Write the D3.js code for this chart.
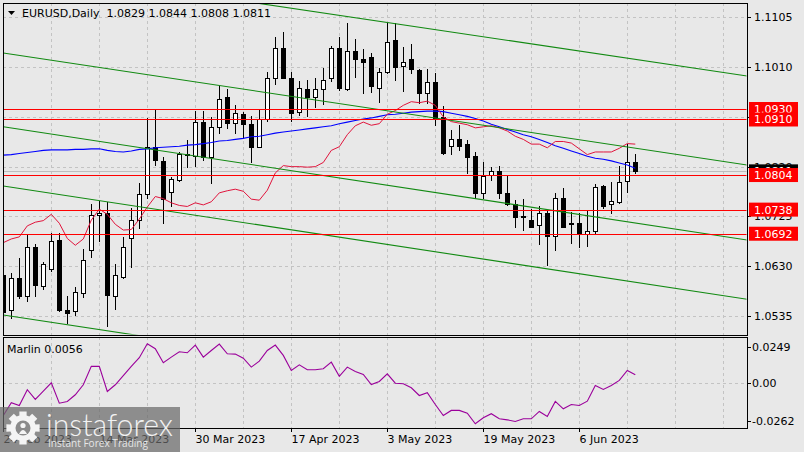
<!DOCTYPE html>
<html><head><meta charset="utf-8">
<script src="https://cdn.jsdelivr.net/npm/d3@7"></script>
<style>body{margin:0;background:#e8e8e8;} svg{display:block;font-family:"DejaVu Sans",sans-serif;}</style>
</head><body><svg id="c" width="804" height="452"></svg>
<script>
// ---------- data ----------
const symbolTitle = "EURUSD,Daily";
const dateLabels = ["24 Feb 2023","14 Mar 2023","30 Mar 2023","17 Apr 2023","3 May 2023","19 May 2023","6 Jun 2023"];
const dateLabelBars = [0,12,24,36,48,60,72];
const open = [1.0613,1.0546,1.0607,1.0574,1.0666,1.0593,1.0624,1.0680,1.0546,1.0544,
1.0578,1.0660,1.0727,1.0731,1.0574,1.0609,1.0683,1.0719,1.0767,1.0857,
1.0831,1.0771,1.0794,1.0845,1.0841,1.0905,1.0839,1.0896,1.0952,1.0903,
1.0920,1.0901,1.0858,1.0910,1.0990,1.1046,1.0990,1.0924,1.0969,1.0953,
1.0969,1.0990,1.1046,1.0969,1.1040,1.1026,1.1029,1.0971,1.1000,1.1061,
1.1013,1.1025,1.1004,1.0960,1.0982,1.0915,1.0860,1.0873,1.0863,1.0840,
1.0769,1.0805,1.0812,1.0769,1.0748,1.0725,1.0719,1.0709,1.0732,1.0688,
1.0761,1.0712,1.0712,1.0691,1.0698,1.0783,1.0748,1.0753,1.0792,1.0829];
const high = [1.0617,1.0618,1.0645,1.0690,1.0672,1.0638,1.0693,1.0693,1.0573,1.0590,
1.0662,1.0748,1.0755,1.0753,1.0634,1.0686,1.0742,1.0788,1.0912,1.0928,
1.0839,1.0801,1.0848,1.0871,1.0927,1.0926,1.0915,1.0973,1.0969,1.0937,
1.0925,1.0917,1.0929,1.1000,1.1067,1.1076,1.1001,1.0983,1.0985,1.0989,
1.1008,1.1050,1.1068,1.1095,1.1063,1.1044,1.1036,1.1009,1.1094,1.1094,
1.1049,1.1055,1.1006,1.1006,1.0999,1.0936,1.0890,1.0899,1.0871,1.0848,
1.0829,1.0820,1.0821,1.0804,1.0756,1.0758,1.0739,1.0744,1.0737,1.0769,
1.0780,1.0734,1.0731,1.0737,1.0787,1.0785,1.0790,1.0821,1.0863,1.0844];
const low = [1.0537,1.0531,1.0569,1.0564,1.0573,1.0587,1.0621,1.0544,1.0522,1.0536,
1.0571,1.0647,1.0679,1.0515,1.0549,1.0607,1.0629,1.0703,1.0760,1.0824,
1.0712,1.0744,1.0793,1.0820,1.0822,1.0833,1.0788,1.0884,1.0893,1.0884,
1.0877,1.0829,1.0857,1.0908,1.0977,1.0989,1.0908,1.0919,1.0916,1.0933,
1.0939,1.0984,1.0966,1.0966,1.0992,1.0961,1.0963,1.0943,1.0998,1.0985,
1.0965,1.0998,1.0941,1.0941,1.0899,1.0845,1.0845,1.0852,1.0808,1.0761,
1.0760,1.0794,1.0760,1.0747,1.0705,1.0699,1.0704,1.0672,1.0632,1.0660,
1.0704,1.0674,1.0666,1.0669,1.0694,1.0742,1.0731,1.0751,1.0772,1.0808];
const close = [1.0543,1.0607,1.0573,1.0666,1.0594,1.0634,1.0679,1.0546,1.0541,1.0580,
1.0642,1.0727,1.0732,1.0575,1.0613,1.0666,1.0719,1.0768,1.0858,1.0832,
1.0758,1.0796,1.0844,1.0842,1.0905,1.0838,1.0895,1.0950,1.0903,1.0922,
1.0902,1.0858,1.0910,1.0990,1.1046,1.0990,1.0923,1.0971,1.0953,1.0968,
1.0985,1.1046,1.0971,1.1041,1.1026,1.1019,1.0973,1.1000,1.1058,1.1011,
1.1019,1.1006,1.0961,1.0982,1.0912,1.0847,1.0873,1.0860,1.0839,1.0769,
1.0802,1.0811,1.0769,1.0748,1.0723,1.0724,1.0705,1.0732,1.0688,1.0761,
1.0705,1.0711,1.0691,1.0697,1.0781,1.0745,1.0755,1.0791,1.0828,1.0811];
const maBlue = [1.0842,1.0843,1.0845,1.0847,1.0849,1.0851,1.0852,1.0852,1.0852,1.0853,
1.0853,1.0854,1.0854,1.0851,1.0849,1.0848,1.0850,1.0853,1.0854,1.0856,
1.0857,1.0858,1.0859,1.0861,1.0862,1.0864,1.0866,1.0869,1.0870,1.0872,
1.0874,1.0877,1.0878,1.0881,1.0884,1.0886,1.0888,1.0890,1.0892,1.0894,
1.0896,1.0898,1.0902,1.0905,1.0908,1.0911,1.0913,1.0916,1.0919,1.0920,
1.0922,1.0924,1.0925,1.0926,1.0926,1.0925,1.0922,1.0919,1.0916,1.0912,
1.0907,1.0901,1.0896,1.0891,1.0886,1.0881,1.0877,1.0872,1.0866,1.0860,
1.0855,1.0850,1.0845,1.0840,1.0836,1.0834,1.0831,1.0827,1.0823,1.0817];
const maRed = [1.0675,1.0682,1.0686,1.0707,1.0714,1.0717,1.0729,1.0712,1.0683,1.0670,
1.0682,1.0718,1.0739,1.0729,1.0710,1.0699,1.0700,1.0720,1.0743,1.0763,
1.0759,1.0751,1.0746,1.0744,1.0751,1.0747,1.0753,1.0770,1.0774,1.0777,
1.0773,1.0758,1.0756,1.0775,1.0808,1.0822,1.0820,1.0820,1.0819,1.0820,
1.0828,1.0851,1.0858,1.0881,1.0898,1.0905,1.0899,1.0902,1.0920,1.0927,
1.0937,1.0944,1.0942,1.0945,1.0937,1.0915,1.0906,1.0903,1.0900,1.0894,
1.0896,1.0898,1.0894,1.0888,1.0878,1.0872,1.0863,1.0863,1.0856,1.0868,
1.0868,1.0865,1.0854,1.0843,1.0848,1.0848,1.0848,1.0855,1.0864,1.0863];
const marlin = [-0.0226,-0.0138,-0.0157,-0.0048,-0.0115,-0.0058,0.0000,-0.0141,-0.0129,-0.0083,
-0.0014,0.0113,0.0113,-0.0060,-0.0014,0.0050,0.0113,0.0173,0.0269,0.0235,
0.0138,0.0177,0.0214,0.0207,0.0260,0.0177,0.0223,0.0267,0.0200,0.0198,
0.0170,0.0108,0.0149,0.0223,0.0260,0.0189,0.0085,0.0124,0.0090,0.0090,
0.0097,0.0142,0.0044,0.0108,0.0078,0.0057,-0.0012,0.0009,0.0062,-0.0003,
-0.0007,-0.0035,-0.0088,-0.0069,-0.0150,-0.0226,-0.0191,-0.0191,-0.0210,-0.0283,
-0.0242,-0.0214,-0.0249,-0.0256,-0.0267,-0.0249,-0.0249,-0.0198,-0.0233,-0.0129,
-0.0180,-0.0150,-0.0157,-0.0127,-0.0019,-0.0046,-0.0019,0.0016,0.0085,0.0056];
const priceTicks = [1.1105,1.1010,1.0915,1.0820,1.0725,1.0630,1.0535];
const marlinTicks = [0.0249,0.0000,-0.0262];
const marlinTickLabels = ["0.0249","0.00","-0.0262"];
const levels = [1.0930,1.0910,1.0804,1.0738,1.0692];
const bidPrice = 1.0811;
const channelStart = [1.1204,1.1037,1.0896,1.0783,1.0537];   // at bar 0
const channelEnd   = [1.0993,1.0823,1.0680,1.0567,1.0321];   // at bar 93
const lastBar = 93;

// ---------- layout ----------
const svg = d3.select("#c");
const L=3, R=747, T=3, B=335, IT=337, IB=428;
const x = d3.scaleLinear().domain([0,lastBar]).range([3.3,747.3]);
const px = i => Math.round(x(i)) + 0.5;
const y = d3.scaleLinear().domain([1.0535,1.1105]).range([316,17.3]);
const yi = d3.scaleLinear().domain([-0.0262,0.0249]).range([420.7,346.7]);
const n = close.length;

svg.append("rect").attr("width",804).attr("height",452).attr("fill","#e8e8e8");
const defs = svg.append("defs");
defs.append("clipPath").attr("id","cm").append("rect").attr("x",L+0.5).attr("y",T+0.5).attr("width",R-L-1).attr("height",B-T-1);
defs.append("clipPath").attr("id","ci").append("rect").attr("x",L+0.5).attr("y",IT+0.5).attr("width",R-L-1).attr("height",IB-IT-1);

const gridC = "#c3c3c3";
// vertical grid
for (let k=1; k*6<lastBar; k++){
  const gx = px(k*6);
  [[T,B],[IT,IB]].forEach(([a,b])=>svg.append("line").attr("x1",gx).attr("x2",gx).attr("y1",a).attr("y2",b)
    .attr("stroke",gridC).attr("stroke-dasharray","3,3"));
}
// horizontal grid
priceTicks.forEach(v=>{
  const gy = Math.round(y(v))+0.5;
  svg.append("line").attr("x1",L).attr("x2",R).attr("y1",gy).attr("y2",gy).attr("stroke",gridC).attr("stroke-dasharray","3,3");
});
svg.append("line").attr("x1",L).attr("x2",R).attr("y1",Math.round(yi(0))+0.5).attr("y2",Math.round(yi(0))+0.5)
  .attr("stroke",gridC).attr("stroke-dasharray","3,3");

const main = svg.append("g").attr("clip-path","url(#cm)");
// bid line
main.append("line").attr("x1",L).attr("x2",R).attr("y1",Math.round(y(bidPrice))+0.5).attr("y2",Math.round(y(bidPrice))+0.5)
  .attr("stroke","#bdbdbd");

// candles
for (let i=0;i<n;i++){
  const cx = px(i);
  main.append("line").attr("x1",cx).attr("x2",cx).attr("y1",Math.round(y(high[i]))).attr("y2",Math.round(y(low[i]))+1)
    .attr("stroke","#000");
  const top = Math.round(y(Math.max(open[i],close[i])));
  const bot = Math.round(y(Math.min(open[i],close[i])));
  const bull = close[i] >= open[i];
  main.append("rect").attr("x",cx-2).attr("y",top+0.5).attr("width",4).attr("height",Math.max(bot-top,1))
    .attr("fill",bull?"#fff":"#000").attr("stroke","#000");
}

// indicator lines
const line = d3.line().x((d,i)=>x(i)).y(d=>y(d));
main.append("path").attr("d",line(maBlue)).attr("fill","none").attr("stroke","#0000ff").attr("stroke-width",1.1);
main.append("path").attr("d",line(maRed)).attr("fill","none").attr("stroke","#e0143c").attr("stroke-width",1);

// channel lines
channelStart.forEach((s,k)=>{
  main.append("line").attr("x1",x(0)).attr("y1",y(s)).attr("x2",x(lastBar)).attr("y2",y(channelEnd[k]))
    .attr("stroke","#128a12").attr("stroke-width",1.1);
});
// horizontal levels
levels.forEach(v=>{
  const ly = Math.round(y(v))+0.5;
  main.append("line").attr("x1",L).attr("x2",R).attr("y1",ly).attr("y2",ly).attr("stroke","#ff0000").attr("stroke-width",1.2);
});

// marlin
const ind = svg.append("g").attr("clip-path","url(#ci)");
ind.append("path").attr("d",d3.line().x((d,i)=>x(i)).y(d=>yi(d))(marlin))
  .attr("fill","none").attr("stroke","#9b009b").attr("stroke-width",1.1);

// frames
const fr = (x1,y1,x2,y2)=>svg.append("line").attr("x1",x1).attr("y1",y1).attr("x2",x2).attr("y2",y2).attr("stroke","#000");
fr(L+0.5,T+0.5,R+0.5,T+0.5); fr(L+0.5,B+0.5,R+0.5,B+0.5); fr(L+0.5,T,L+0.5,B+1); fr(R+0.5,T,R+0.5,B+1);
fr(L+0.5,IT+0.5,R+0.5,IT+0.5); fr(L+0.5,IB+0.5,R+0.5,IB+0.5); fr(L+0.5,IT,L+0.5,IB+1); fr(R+0.5,IT,R+0.5,IB+1);

// header
svg.append("path").attr("d","M8,11 L15,11 L11.5,15 Z").attr("fill","#000");
svg.append("text").attr("x",22).attr("y",17).attr("font-size",11).attr("fill","#000")
  .attr("xml:space","preserve")
  .text(`${symbolTitle}  ${open[n-1].toFixed(4)} ${high[n-1].toFixed(4)} ${low[n-1].toFixed(4)} ${close[n-1].toFixed(4)}`);
svg.append("text").attr("x",7).attr("y",353).attr("font-size",11).attr("fill","#000")
  .text(`Marlin ${marlin[n-1].toFixed(4)}`);

// right axis
priceTicks.forEach(v=>{
  const ty = Math.round(y(v))+0.5;
  fr(R,ty,R+4,ty);
  svg.append("text").attr("x",754).attr("y",y(v)+4).attr("font-size",11).attr("fill","#000").text(v.toFixed(4));
});
marlinTicks.forEach((v,k)=>{
  const ty = Math.round(yi(v))+0.5;
  fr(R,ty,R+4,ty);
  svg.append("text").attr("x",752).attr("y",yi(v)+4).attr("font-size",11).attr("fill","#000").text(marlinTickLabels[k]);
});
// bid label (black)
{
  const by = y(bidPrice);
  svg.append("rect").attr("x",749).attr("y",by-7).attr("width",49).attr("height",14).attr("fill","#000");
  svg.append("text").attr("x",754).attr("y",by+4).attr("font-size",11).attr("fill","#fff").text(bidPrice.toFixed(4));
}
levels.forEach(v=>{
  const ly = y(v);
  svg.append("rect").attr("x",749).attr("y",ly-7).attr("width",49).attr("height",14).attr("fill","#ff0000");
  svg.append("text").attr("x",754).attr("y",ly+4).attr("font-size",11).attr("fill","#fff").text(v.toFixed(4));
});

// date axis
dateLabelBars.forEach((b,k)=>{
  const tx = px(b);
  fr(tx,IB,tx,IB+4);
  svg.append("text").attr("x",tx).attr("y",443).attr("font-size",11).attr("fill","#000").text(dateLabels[k]);
});

// watermark logo
const lg = svg.append("g");
lg.append("rect").attr("x",0).attr("y",407).attr("width",180).attr("height",45).attr("fill","#6a6a6a").attr("opacity",0.72);
{
  const cx=23, cy=428, ro=17, ri=13, teeth=8;
  let pts=[];
  for(let t=0;t<teeth;t++){
    const a0 = t*2*Math.PI/teeth;
    const w = Math.PI/teeth*0.55;
    pts.push([a0-w*1.3, ri],[a0-w, ro],[a0+w, ro],[a0+w*1.3, ri]);
  }
  const gear = pts.map((p,j)=>(j?"L":"M")+(cx+p[1]*Math.cos(p[0])).toFixed(2)+","+(cy+p[1]*Math.sin(p[0])).toFixed(2)).join("")+"Z";
  lg.append("path").attr("d",gear).attr("fill","#f4f4f4");
  lg.append("circle").attr("cx",cx).attr("cy",cy).attr("r",7.5).attr("fill","#8a8a8a");
  lg.append("circle").attr("cx",cx).attr("cy",cy-2.5).attr("r",2.6).attr("fill","#f4f4f4");
  lg.append("path").attr("d",`M${cx-4},${cy+6} Q${cx},${cy-2} ${cx+4},${cy+6} Z`).attr("fill","#f4f4f4");
}
lg.append("text").attr("x",46).attr("y",436).attr("font-family","Lato, 'Open Sans', sans-serif").attr("font-weight",300)
  .attr("font-size",31).attr("fill","#f2f2f2").attr("textLength",127).attr("lengthAdjust","spacingAndGlyphs").text("instaforex");
lg.append("text").attr("x",48).attr("y",447).attr("font-family","'Open Sans', sans-serif")
  .attr("font-size",11).attr("fill","#e6e6e6").attr("textLength",100).attr("lengthAdjust","spacingAndGlyphs").text("Instant Forex Trading");
</script></body></html>
